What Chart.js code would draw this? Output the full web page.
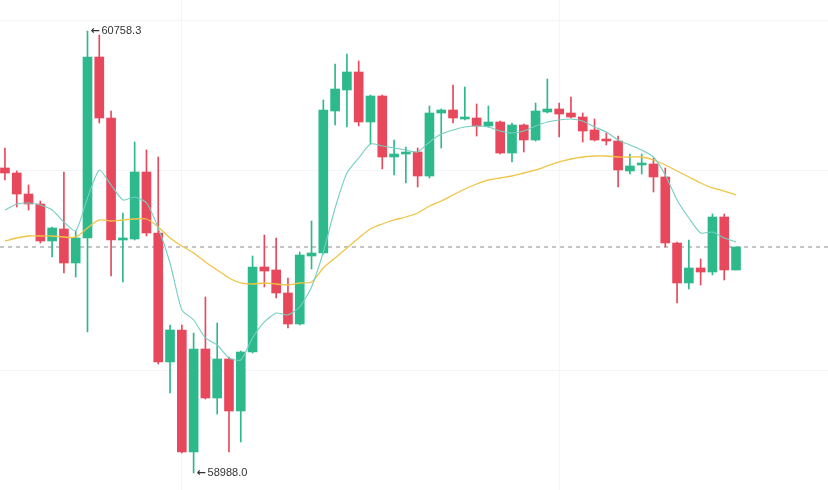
<!DOCTYPE html>
<html>
<head>
<meta charset="utf-8">
<script src="https://cdn.jsdelivr.net/npm/chart.js@4.4.1/dist/chart.umd.min.js"></script>
<style>
  html, body { margin: 0; padding: 0; background: #fff; }
  #wrap { width: 828px; height: 490px; position: relative; }
</style>
</head>
<body>
<div id="wrap"><canvas id="kline" width="828" height="490"></canvas></div>
<script>
// --- OHLC (63 candles) ---
const opens = [60209.7, 60189.6, 60105.5, 60065.5, 59917.3, 59965.4, 59829.2, 59929.3, 60654.2, 60409.9,
  59921.3, 59925.3, 60193.6, 59949.3, 59432.7, 59560.9, 59072.2, 59484.8, 59288.5, 59444.7,
  59236.4, 59472.7, 59813.2, 59801.2, 59709.0, 59584.9, 59857.2, 59869.2, 60437.9, 60522.1,
  60594.1, 60393.9, 60498.0, 60253.7, 60265.7, 60273.7, 60177.6, 60429.9, 60442.0, 60405.9,
  60409.9, 60377.9, 60393.9, 60269.7, 60381.9, 60321.8, 60433.9, 60446.0, 60429.9, 60413.9,
  60361.9, 60325.8, 60317.8, 60197.6, 60221.7, 60225.7, 60173.6, 59909.3, 59749.1, 59809.2,
  59793.1, 60013.4, 59801.2];
const highs = [60289.8, 60197.6, 60141.6, 60077.5, 59973.4, 60193.6, 59957.3, 60758.3, 60742.3, 60437.9,
  60029.4, 60313.8, 60281.8, 60253.7, 59580.9, 59580.9, 59548.8, 59693.0, 59588.9, 59452.7,
  59476.7, 59857.2, 59941.3, 59929.3, 59769.1, 59873.2, 59997.4, 60482.0, 60626.2, 60666.2,
  60638.2, 60502.0, 60502.0, 60321.8, 60293.8, 60289.8, 60458.0, 60446.0, 60542.1, 60534.1,
  60466.0, 60458.0, 60397.9, 60389.9, 60385.9, 60470.0, 60566.1, 60470.0, 60494.0, 60429.9,
  60405.9, 60349.8, 60337.8, 60265.7, 60265.7, 60249.7, 60209.7, 59913.3, 59921.3, 59845.2,
  60025.4, 60025.4, 59893.3];
const lows = [60161.6, 60053.5, 60041.5, 59909.3, 59853.2, 59789.1, 59773.1, 59552.8, 60389.9, 59777.1,
  59753.1, 59921.3, 59937.3, 59424.7, 59308.5, 59068.2, 58988.0, 59284.5, 59224.4, 59072.2,
  59112.3, 59468.7, 59733.1, 59689.0, 59568.9, 59580.9, 59805.2, 59865.2, 60381.9, 60373.9,
  60377.9, 60305.8, 60205.7, 60181.6, 60149.6, 60133.6, 60169.6, 60289.8, 60389.9, 60401.9,
  60337.8, 60373.9, 60265.7, 60233.7, 60273.7, 60317.8, 60429.9, 60333.8, 60409.9, 60313.8,
  60317.8, 60301.8, 60133.6, 60185.6, 60185.6, 60113.5, 59893.3, 59669.0, 59725.1, 59741.1,
  59781.1, 59761.1, 59801.2];
const closes = [60189.6, 60105.5, 60065.5, 59917.3, 59969.4, 59829.2, 59929.3, 60654.2, 60409.9, 59921.3,
  59927.3, 60193.6, 59949.3, 59432.7, 59560.9, 59072.2, 59484.8, 59288.5, 59444.7, 59236.4,
  59472.7, 59813.2, 59797.1, 59709.0, 59584.9, 59861.2, 59869.2, 60442.0, 60526.1, 60594.1,
  60393.9, 60498.0, 60253.7, 60265.7, 60273.7, 60177.6, 60429.9, 60442.0, 60409.9, 60413.9,
  60377.9, 60393.9, 60269.7, 60381.9, 60321.8, 60437.9, 60446.0, 60425.9, 60413.9, 60357.8,
  60321.8, 60317.8, 60201.7, 60217.7, 60225.7, 60173.6, 59909.3, 59749.1, 59809.2, 59793.1,
  60013.4, 59801.2, 59893.3];

// moving averages as drawn (fast = teal, slow = yellow)
const maFast = [60041.5, 60065.5, 60069.5, 60061.5, 60041.5, 59993.4, 59957.3, 60089.5, 60201.7, 60141.6,
  60081.5, 60093.5, 60069.5, 59969.4, 59829.2, 59641.0, 59600.9, 59528.8, 59500.8, 59448.7,
  59440.7, 59528.8, 59592.9, 59628.9, 59620.9, 59653.0, 59733.1, 59873.2, 60049.5, 60189.6,
  60249.7, 60305.8, 60297.8, 60289.8, 60281.8, 60273.7, 60313.8, 60345.8, 60361.9, 60373.9,
  60377.9, 60373.9, 60357.8, 60349.8, 60357.8, 60377.9, 60393.9, 60401.9, 60405.9, 60397.9,
  60373.9, 60353.8, 60321.8, 60301.8, 60281.8, 60253.7, 60181.6, 60081.5, 60009.4, 59949.3,
  59953.3, 59929.3, 59913.3];
const maSlow = [59917.3, 59929.3, 59937.3, 59937.3, 59937.3, 59933.3, 59933.3, 59969.4, 60001.4, 59997.4,
  60001.4, 60005.4, 60005.4, 59973.4, 59929.3, 59897.3, 59869.2, 59833.2, 59801.2, 59769.1,
  59749.1, 59745.1, 59749.1, 59745.1, 59741.1, 59749.1, 59753.1, 59809.2, 59849.2, 59889.3,
  59929.3, 59965.4, 59985.4, 60001.4, 60013.4, 60029.4, 60057.5, 60077.5, 60101.5, 60125.6,
  60145.6, 60161.6, 60169.6, 60177.6, 60189.6, 60201.7, 60217.7, 60233.7, 60245.7, 60253.7,
  60257.7, 60257.7, 60253.7, 60253.7, 60253.7, 60241.7, 60221.7, 60197.6, 60173.6, 60149.6,
  60129.6, 60117.5, 60101.5];

const gridPrices = [59400, 60200, 60800];
const gridSlots = [15, 47];

const UP = '#2db98c';
const DOWN = '#e8485c';

const xMin = -0.42, xMax = 69.8;
const lastClose = closes[closes.length - 1];
const candleColors = opens.map((o, i) => closes[i] >= o ? UP : DOWN);

// --- arrow labels for the visible high / low ---
const extremeLabels = {
  id: 'extremeLabels',
  afterDatasetsDraw(chart) {
    const { ctx, scales: { x, y } } = chart;
    const hiIdx = highs.indexOf(Math.max(...highs));
    const loIdx = lows.indexOf(Math.min(...lows));
    const draw = (idx, val) => {
      const px = x.getPixelForValue(idx), py = y.getPixelForValue(val);
      ctx.font = 'bold 11px "DejaVu Sans", sans-serif';
      ctx.fillText('\u2190', px + 3, py);
      ctx.font = '11px "Liberation Sans", Arial, sans-serif';
      ctx.fillText(val.toFixed(1), px + 14, py);
    };
    ctx.save();
    ctx.fillStyle = '#333';
    ctx.textBaseline = 'middle';
    draw(hiIdx, highs[hiIdx]);
    draw(loIdx, lows[loIdx]);
    ctx.restore();
  }
};

const ctx = document.getElementById('kline').getContext('2d');
new Chart(ctx, {
  type: 'bar',
  data: {
    datasets: [
      {
        type: 'line', label: 'last',
        data: [{ x: xMin, y: lastClose }, { x: xMax, y: lastClose }],
        borderColor: '#8c8c8c', borderWidth: 1, borderDash: [4, 4],
        pointRadius: 0, order: 6
      },
      {
        label: 'wick',
        data: lows.map((l, i) => ({ x: i, y: [l, highs[i]] })),
        backgroundColor: candleColors, barThickness: 1, minBarLength: 1,
        grouped: false, order: 5
      },
      {
        label: 'body',
        data: opens.map((o, i) => ({ x: i, y: [o, closes[i]] })),
        backgroundColor: candleColors, barThickness: 9, minBarLength: 2,
        grouped: false, order: 4
      },
      {
        type: 'line', label: 'MA slow',
        data: maSlow.map((v, i) => ({ x: i, y: v })),
        borderColor: '#f0c444', borderWidth: 1.3, pointRadius: 0, tension: 0.3, order: 2
      },
      {
        type: 'line', label: 'MA fast',
        data: maFast.map((v, i) => ({ x: i, y: v })),
        borderColor: '#74cfc2', borderWidth: 1.1, pointRadius: 0, tension: 0.2, order: 1
      }
    ]
  },
  options: {
    responsive: false,
    animation: false,
    devicePixelRatio: 1,
    layout: { padding: 0 },
    plugins: { legend: { display: false }, tooltip: { enabled: false } },
    scales: {
      x: {
        type: 'linear', min: xMin, max: xMax, offset: false,
        afterBuildTicks: (s) => { s.ticks = gridSlots.map(v => ({ value: v })); },
        grid: { color: '#f5f5f5', drawTicks: false, offset: false },
        border: { display: false },
        ticks: { display: false }
      },
      y: {
        min: 58920, max: 60882.5,
        afterBuildTicks: (s) => { s.ticks = gridPrices.map(v => ({ value: v })); },
        grid: { color: '#f5f5f5', drawTicks: false },
        border: { display: false },
        ticks: { display: false }
      }
    }
  },
  plugins: [extremeLabels]
});
</script>
</body>
</html>
